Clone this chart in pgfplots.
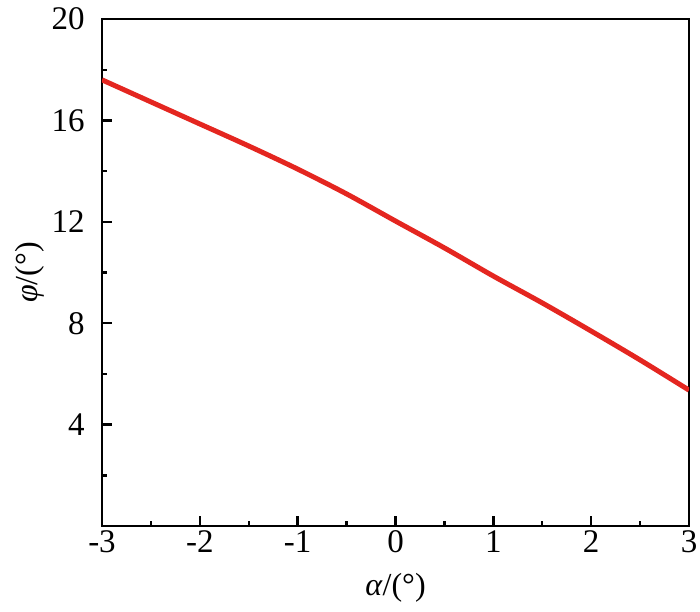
\documentclass[border=0pt]{standalone}
\usepackage{fontspec}
\setmainfont{Liberation Serif}
\usepackage{pgfplots}
\pgfplotsset{compat=1.18}
\definecolor{curve}{RGB}{228,38,32}
\begin{document}
\fontsize{16.5}{19}\selectfont
\begin{tikzpicture}
\useasboundingbox (-51pt,-42.5pt) rectangle (299pt,263pt);
\begin{axis}[
  at={(0,0)}, anchor=south west,
  scale only axis,
  width=293.5pt, height=253.5pt,
  xmin=-3, xmax=3, ymin=0, ymax=20,
  xtick={-3,-2,-1,0,1,2,3},
  xticklabels={-3,-2,-1,0,1,2,3},
  ytick={4,8,12,16,20},
  minor xtick={-2.5,-1.5,-0.5,0.5,1.5,2.5},
  minor ytick={2,6,10,14,18},
  tick align=inside,
  xtick pos=bottom, ytick pos=left,
  major tick length=5pt, minor tick length=2.5pt,
  axis line style={line width=1.2pt},
  every tick/.style={black, line width=1.2pt},
  every minor tick/.style={black, line width=1.2pt},
  /pgf/number format/assume math mode=true,
  ticklabel style={font=\fontsize{16.5}{19}\selectfont},
  yticklabel style={xshift=-3pt},
  xticklabel style={yshift=-1pt, inner sep=1pt},
  xlabel={\textit{α}/(°)},
  ylabel={\textit{φ}/(°)},
  label style={font=\fontsize{16}{18}\selectfont, inner sep=1pt},
  xlabel style={at={(axis description cs:0.5,-0.122)}, anchor=center},
  ylabel style={at={(axis description cs:-0.1227,0.5)}, anchor=center, rotate=0},
]
\addplot[curve, line width=2.5pt, smooth] coordinates {
(-3,17.6) (-2.5,16.73) (-2,15.86) (-1.5,14.99) (-1,14.08) (-0.5,13.1) (0,12.03)
(0.5,10.97) (1,9.86) (1.5,8.8) (2,7.69) (2.5,6.55) (3,5.36)
};
\end{axis}
\end{tikzpicture}
\end{document}
